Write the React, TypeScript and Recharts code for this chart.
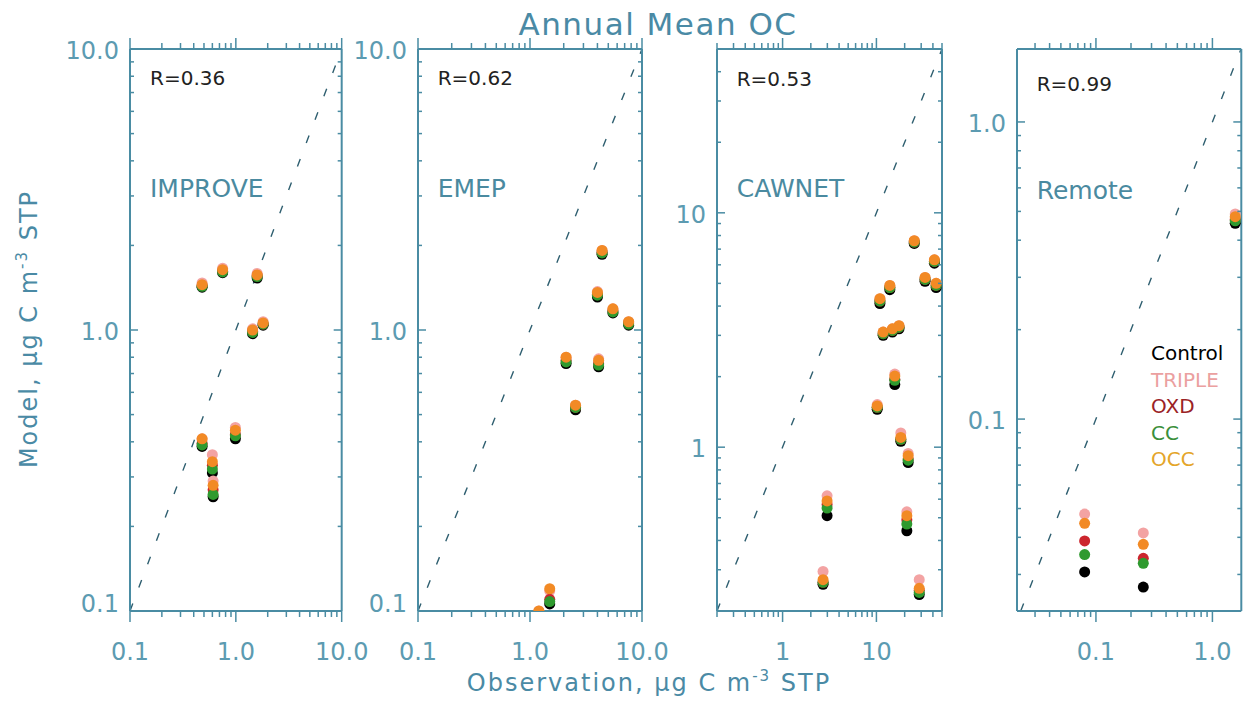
import React from 'react';
import { ScatterChart, Scatter, XAxis, YAxis, ReferenceLine, Legend } from 'recharts';

const AXIS = '#4a8ca3';
const LABEL = '#5c9bb1';
const FONT = '"DejaVu Sans", Verdana, sans-serif';

const SERIES = ['Control', 'TRIPLE', 'OXD', 'CC', 'OCC'];
const MARKER_COLORS = ['#000000', '#f3a3a3', '#cc262e', '#2f9a2f', '#f28a25'];
const LEGEND_COLORS = ['#000000', '#eba0a0', '#9b2326', '#3b8f3b', '#e4a52a'];

// IMPROVE sites
const improveObs = [0.48, 0.75, 1.59, 1.44, 1.81, 0.48, 0.99, 0.60, 0.61];
const improveControl = [1.42, 1.60, 1.53, 0.97, 1.04, 0.385, 0.41, 0.31, 0.255];
const improveTriple = [1.47, 1.66, 1.59, 1.01, 1.07, 0.41, 0.45, 0.36, 0.29];
const improveOxd = [1.44, 1.62, 1.56, 0.99, 1.05, 0.395, 0.425, 0.33, 0.27];
const improveCc = [1.43, 1.61, 1.55, 0.98, 1.05, 0.39, 0.42, 0.32, 0.26];
const improveOcc = [1.45, 1.64, 1.57, 1.00, 1.06, 0.41, 0.44, 0.34, 0.28];

// EMEP sites
const emepObs = [4.4, 4.0, 5.5, 7.6, 2.1, 4.1, 2.55, 1.5, 1.2];
const emepControl = [1.86, 1.31, 1.15, 1.04, 0.76, 0.74, 0.52, 0.106, 0.097];
const emepTriple = [1.92, 1.37, 1.19, 1.07, 0.80, 0.79, 0.54, 0.118, 0.10];
const emepOxd = [1.89, 1.34, 1.17, 1.06, 0.78, 0.76, 0.53, 0.11, 0.099];
const emepCc = [1.88, 1.33, 1.16, 1.05, 0.77, 0.75, 0.53, 0.108, 0.099];
const emepOcc = [1.92, 1.36, 1.19, 1.07, 0.80, 0.78, 0.54, 0.12, 0.10];

// CAWNET sites
const cawnetObs = [25.3, 41.5, 33.0, 43.3, 13.9, 10.9, 11.8, 14.8, 17.4, 15.7, 10.2, 18.2, 21.8, 2.98, 21.1, 2.70, 28.6];
const cawnetControl = [7.4, 6.1, 5.1, 4.8, 4.7, 4.1, 3.0, 3.1, 3.2, 1.85, 1.45, 1.06, 0.86, 0.51, 0.44, 0.26, 0.235];
const cawnetTriple = [7.6, 6.3, 5.3, 5.0, 4.9, 4.3, 3.1, 3.2, 3.3, 2.05, 1.52, 1.15, 0.94, 0.62, 0.53, 0.295, 0.272];
const cawnetOxd = [7.5, 6.2, 5.2, 4.9, 4.8, 4.2, 3.05, 3.15, 3.25, 1.95, 1.48, 1.08, 0.89, 0.57, 0.49, 0.265, 0.245];
const cawnetCc = [7.5, 6.2, 5.2, 4.9, 4.8, 4.2, 3.05, 3.15, 3.25, 1.93, 1.48, 1.08, 0.88, 0.55, 0.47, 0.265, 0.24];
const cawnetOcc = [7.6, 6.3, 5.3, 5.0, 4.9, 4.3, 3.1, 3.2, 3.3, 2.01, 1.50, 1.10, 0.92, 0.59, 0.51, 0.272, 0.25];

// Remote sites
const remoteObs = [0.080, 0.255, 1.57];
const remoteControl = [0.0306, 0.0272, 0.456];
const remoteTriple = [0.0479, 0.0414, 0.49];
const remoteOxd = [0.0389, 0.034, 0.47];
const remoteCc = [0.035, 0.0327, 0.465];
const remoteOcc = [0.0446, 0.0379, 0.48];

// major tick labels
const labelsTenth = { '0.1': '0.1', '1': '1.0', '10': '10.0' };
const labelsCawnet = { '1': '1', '10': '10' };
const labelsRemote = { '0.1': '0.1', '1': '1.0' };

const TOP = 49;
const BOTTOM = 611;
const PAD_L = 75;

const panels = [
  {
    name: 'IMPROVE', r: 'R=0.36', obs: improveObs,
    model: [improveControl, improveTriple, improveOxd, improveCc, improveOcc],
    xDomain: [0.1, 10], yDomain: [0.1, 10], xLabels: labelsTenth, yLabels: labelsTenth,
    left: 130, right: 341.7, padR: 40, rY: 85, nameY: 197,
  },
  {
    name: 'EMEP', r: 'R=0.62', obs: emepObs,
    model: [emepControl, emepTriple, emepOxd, emepCc, emepOcc],
    xDomain: [0.1, 10], yDomain: [0.1, 10], xLabels: labelsTenth, yLabels: labelsTenth,
    left: 417.7, right: 641.7, padR: 40, rY: 85, nameY: 197,
  },
  {
    name: 'CAWNET', r: 'R=0.53', obs: cawnetObs,
    model: [cawnetControl, cawnetTriple, cawnetOxd, cawnetCc, cawnetOcc],
    xDomain: [0.2, 50], yDomain: [0.2, 50], xLabels: labelsCawnet, yLabels: labelsCawnet,
    left: 716.7, right: 941.7, padR: 40, rY: 86, nameY: 197,
  },
  {
    name: 'Remote', r: 'R=0.99', obs: remoteObs,
    model: [remoteControl, remoteTriple, remoteOxd, remoteCc, remoteOcc],
    xDomain: [0.021, 1.77], yDomain: [0.0226, 1.76], xLabels: labelsRemote, yLabels: labelsRemote,
    left: 1016.7, right: 1241, padR: 3, rY: 91, nameY: 199, legend: true,
  },
];

const isPow10 = (v: number) => Math.abs(Math.log10(v) - Math.round(Math.log10(v))) < 1e-6;

const logTicks = (lo: number, hi: number) => {
  const out: number[] = [];
  for (let e = Math.floor(Math.log10(lo)); e <= Math.ceil(Math.log10(hi)); e++) {
    for (let m = 1; m <= 9; m++) {
      const v = +(m * Math.pow(10, e)).toPrecision(3);
      if (v >= lo * 0.999 && v <= hi * 1.001) out.push(v);
    }
  }
  return out;
};

const labelOf = (labels: Record<string, string>, v: number) => labels[String(v)];

const textStyle = { fontFamily: FONT, fontSize: 24, fill: LABEL };

const bottomTick = (labels: Record<string, string>) => (p: any) => {
  const v = p.payload.value;
  const major = isPow10(v);
  const label = labelOf(labels, v);
  return (
    <g>
      <line x1={p.x} x2={p.x} y1={p.y} y2={p.y + (major ? 11 : 6)} stroke={AXIS} strokeWidth={1.5} />
      {label && (
        <text x={p.x} y={p.y + 49} textAnchor="middle" style={textStyle}>{label}</text>
      )}
    </g>
  );
};

const topTick = (p: any) => {
  const major = isPow10(p.payload.value);
  return <line x1={p.x} x2={p.x} y1={p.y} y2={p.y - (major ? 11 : 6)} stroke={AXIS} strokeWidth={1.5} />;
};

const leftTick = (labels: Record<string, string>, lo: number) => (p: any) => {
  const v = p.payload.value;
  const major = isPow10(v);
  const label = labelOf(labels, v);
  const atFloor = Math.abs(v - lo) < lo * 1e-3;
  return (
    <g>
      <line x1={p.x} x2={p.x + (major ? 8 : 4)} y1={p.y} y2={p.y} stroke={AXIS} strokeWidth={1.5} />
      {label && (
        <text x={p.x - 11} y={p.y + (atFloor ? 1 : 10)} textAnchor="end" style={textStyle}>{label}</text>
      )}
    </g>
  );
};

const rightTick = (p: any) => {
  const major = isPow10(p.payload.value);
  return <line x1={p.x} x2={p.x - (major ? 8 : 4)} y1={p.y} y2={p.y} stroke={AXIS} strokeWidth={1.5} />;
};

const dot = (color: string) => (p: any) => <circle cx={p.cx} cy={p.cy} r={5.5} fill={color} />;

const renderLegend = () => (
  <div style={{ fontFamily: FONT, fontSize: 20, lineHeight: '26.5px' }}>
    {SERIES.map((s, i) => (
      <div key={s} style={{ color: LEGEND_COLORS[i] }}>{s}</div>
    ))}
  </div>
);

function Panel({ cfg }: { cfg: any }) {
  const chartLeft = cfg.left - PAD_L;
  const width = cfg.right - cfg.left + PAD_L + cfg.padR;
  const xTicks = logTicks(cfg.xDomain[0], cfg.xDomain[1]);
  const yTicks = logTicks(cfg.yDomain[0], cfg.yDomain[1]);
  const lo = Math.max(cfg.xDomain[0], cfg.yDomain[0]);
  const hi = Math.min(cfg.xDomain[1], cfg.yDomain[1]);
  const axisLine = { stroke: AXIS, strokeWidth: 2 };
  // each axis takes 1px of space, so the margins give that back
  return (
    <div style={{ position: 'absolute', left: chartLeft, top: 0 }}>
      <ScatterChart
        width={width}
        height={704}
        margin={{ top: TOP - 1, bottom: 704 - BOTTOM - 1, left: PAD_L - 1, right: cfg.padR - 1 }}
      >
        <XAxis xAxisId="b" type="number" dataKey="x" scale="log" domain={cfg.xDomain} allowDataOverflow
          ticks={xTicks} interval={0} height={1} tickSize={0} tickMargin={0} tickLine={false}
          axisLine={axisLine} tick={bottomTick(cfg.xLabels)} />
        <XAxis xAxisId="t" orientation="top" type="number" dataKey="x" scale="log" domain={cfg.xDomain} allowDataOverflow
          ticks={xTicks} interval={0} height={1} tickSize={0} tickMargin={0} tickLine={false}
          axisLine={axisLine} tick={topTick} />
        <YAxis yAxisId="l" type="number" dataKey="y" scale="log" domain={cfg.yDomain} allowDataOverflow
          ticks={yTicks} interval={0} width={1} tickSize={0} tickMargin={0} tickLine={false}
          axisLine={axisLine} tick={leftTick(cfg.yLabels, cfg.yDomain[0])} />
        <YAxis yAxisId="r" orientation="right" type="number" dataKey="y" scale="log" domain={cfg.yDomain} allowDataOverflow
          ticks={yTicks} interval={0} width={1} tickSize={0} tickMargin={0} tickLine={false}
          axisLine={axisLine} tick={rightTick} />
        <ReferenceLine xAxisId="b" yAxisId="l" segment={[{ x: lo, y: lo }, { x: hi, y: hi }]}
          stroke="#2f5f70" strokeWidth={1.4} strokeDasharray="8 17" ifOverflow="hidden" />
        {SERIES.map((s, i) => (
          <Scatter
            key={s}
            name={s}
            xAxisId="b"
            yAxisId="l"
            data={cfg.obs.map((x: number, k: number) => ({ x, y: cfg.model[i][k] }))}
            fill={MARKER_COLORS[i]}
            shape={dot(MARKER_COLORS[i])}
            isAnimationActive={false}
          />
        ))}
        {cfg.legend && (
          <Legend layout="vertical" align="center" verticalAlign="middle" content={renderLegend}
            wrapperStyle={{ left: 1151 - chartLeft, top: 340, width: 90 }} />
        )}
      </ScatterChart>
    </div>
  );
}

export default function App() {
  return (
    <div style={{ position: 'absolute', left: 0, top: 0, width: 1244, height: 704, background: '#fff', overflow: 'hidden' }}>
      {panels.map((p) => <Panel key={p.name} cfg={p} />)}
      <svg width={1244} height={704} style={{ position: 'absolute', left: 0, top: 0, pointerEvents: 'none' }}>
        <text x={658} y={35} textAnchor="middle" style={{ fontFamily: FONT, fontSize: 31, fill: '#4a8aa5', letterSpacing: 1.5 }}>
          Annual Mean OC
        </text>
        <text x={649} y={691} textAnchor="middle" style={{ fontFamily: FONT, fontSize: 24, fill: '#4a8aa5', letterSpacing: 2 }}>
          Observation, μg C m<tspan fontSize={15} dy={-10}>-3</tspan><tspan dy={10}> STP</tspan>
        </text>
        <text transform="translate(37,329) rotate(-90)" textAnchor="middle" style={{ fontFamily: FONT, fontSize: 24, fill: '#4a8aa5', letterSpacing: 2 }}>
          Model, μg C m<tspan fontSize={15} dy={-10}>-3</tspan><tspan dy={10}> STP</tspan>
        </text>
        {panels.map((p) => (
          <g key={p.name}>
            <text x={p.left + 20} y={p.rY} style={{ fontFamily: FONT, fontSize: 20, fill: '#222' }}>{p.r}</text>
            <text x={p.left + 20} y={p.nameY} style={{ fontFamily: FONT, fontSize: 25, fill: '#4a8aa0' }}>{p.name}</text>
          </g>
        ))}
      </svg>
    </div>
  );
}
